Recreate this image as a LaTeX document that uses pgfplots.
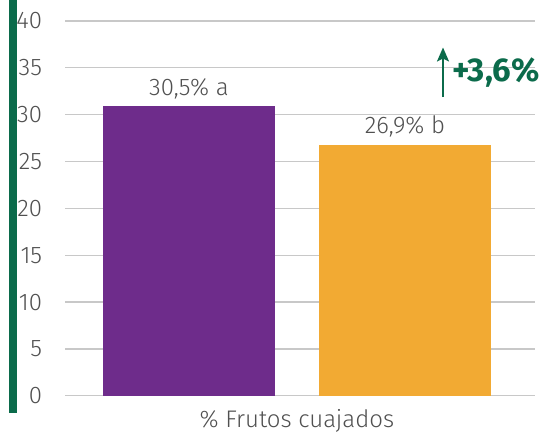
\documentclass[border=0pt]{standalone}
\usepackage{pgfplots}
\pgfplotsset{compat=1.18}
\usetikzlibrary{arrows.meta}
\usepackage{fontspec}
\setmainfont{Fira Sans}[UprightFont=* Light, BoldFont=* Bold]
\definecolor{fgreen}{HTML}{0B6B4B}
\definecolor{fpurple}{HTML}{6E2C8B}
\definecolor{forange}{HTML}{F2AA33}
\definecolor{ftext}{HTML}{505050}
\definecolor{fgrid}{HTML}{C8C8C8}
\begin{document}
\begin{tikzpicture}[x=1pt,y=1pt]
\useasboundingbox (0,0) rectangle (556,432);
\fill[fgreen] (9,19) rectangle (17,432);
\begin{axis}[
  at={(65pt,36.3pt)}, anchor=south west,
  scale only axis, width=470pt, height=374.7pt,
  xmin=-0.574, xmax=1.602, ymin=0, ymax=40,
  ytick={0,5,...,40},
  xtick={0.5}, xticklabels={\% Frutos cuajados},
  axis line style={draw=none},
  major tick length=0pt,
  ymajorgrids, grid style={fgrid, line width=1.3pt},
  /pgf/number format/assume math mode=true,
  tick label style={font=\fontsize{24}{26}\selectfont, text=ftext},
  yticklabel style={inner sep=0pt, anchor=east, xshift=-22.7pt},
  xticklabel style={inner sep=0pt, anchor=base, yshift=-31.3pt},
  clip=false,
  ybar, bar width=0.796, bar shift=0pt,
  point meta=explicit symbolic,
  nodes near coords,
  every node near coord/.append style={font=\fontsize{24}{26}\selectfont, text=ftext, anchor=base, inner sep=0pt, yshift=11pt},
]
\addplot[fill=fpurple, draw=none] coordinates {(0,30.9) [30,5\% a]};
\addplot[fill=forange, draw=none] coordinates {(1,26.8) [26,9\% b]};
\end{axis}
\draw[fgreen, line width=2.3pt, -{Stealth[length=14pt,width=12pt,inset=3pt]}] (443,335) -- (443,384.5);
\node[anchor=center, inner sep=0pt, text=fgreen, font=\fontsize{33}{35}\selectfont\bfseries] at (496,359.5) {+3,6\%};
\end{tikzpicture}
\end{document}
